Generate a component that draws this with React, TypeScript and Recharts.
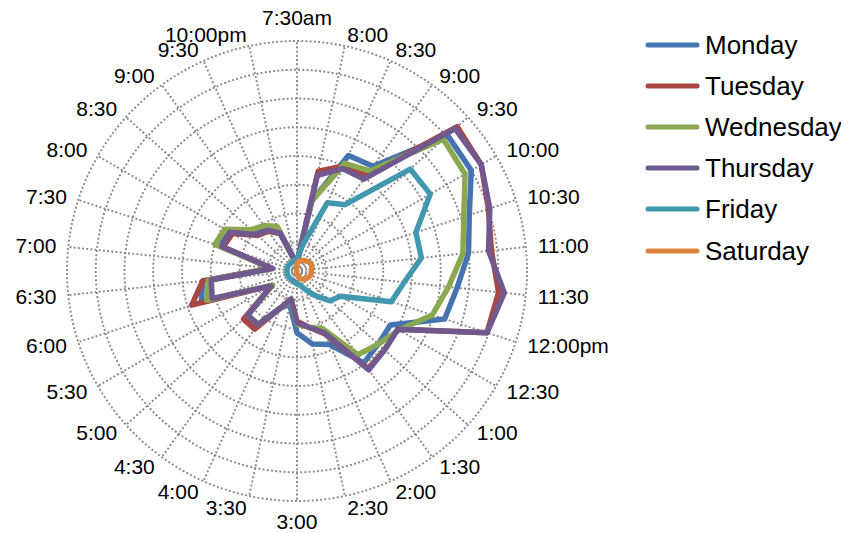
import React from "react";
import { RadarChart, Radar, PolarGrid, PolarAngleAxis, PolarRadiusAxis, Legend } from "recharts";

const categories = ["7:30am","8:00","8:30","9:00","9:30","10:00","10:30","11:00","11:30","12:00pm","12:30","1:00","1:30","2:00","2:30","3:00","3:30","4:00","4:30","5:00","5:30","6:00","6:30","7:00","7:30","8:00","8:30","9:00","9:30","10:00pm"];

const monday = [0.3, 2.5, 4.4, 4.5, 7.05, 7.0, 6.3, 6.0, 5.6, 5.4, 3.75, 3.8, 3.95, 2.8, 2.6, 2.15, 1.2, 1.4, 2.4, 2.4, 1.0, 3.5, 3.3, 0.9, 2.85, 2.7, 1.95, 1.8, 1.4, 0.35];
const tuesday = [0.3, 3.55, 4.0, 4.1, 7.5, 7.4, 7.0, 6.8, 7.05, 6.95, 4.05, 4.1, 4.2, 2.4, 2.0, 1.75, 1.0, 1.4, 2.5, 2.5, 1.0, 3.85, 3.3, 0.9, 2.7, 2.6, 1.85, 1.7, 1.45, 0.35];
const wednesday = [0.3, 2.5, 4.1, 4.3, 6.85, 6.75, 6.1, 5.8, 5.3, 4.95, 4.1, 3.8, 3.6, 2.2, 2.0, 1.85, 1.05, 1.4, 2.3, 2.3, 1.0, 3.3, 3.1, 0.9, 3.0, 2.9, 2.15, 1.95, 1.7, 0.4];
const thursday = [0.3, 3.4, 3.9, 3.95, 7.4, 7.4, 7.05, 6.7, 7.25, 6.95, 4.05, 4.1, 4.25, 2.35, 2.0, 1.8, 1.0, 1.4, 2.3, 2.3, 1.05, 3.1, 3.0, 0.85, 2.75, 2.7, 1.9, 1.75, 1.45, 0.4];
const friday = [0.4, 0.9, 2.6, 2.85, 5.3, 5.35, 4.35, 4.35, 3.75, 3.45, 1.75, 1.55, 1.05, 0.7, 0.5, 0.45, 0.4, 0.35, 0.35, 0.35, 0.35, 0.35, 0.35, 0.35, 0.35, 0.35, 0.35, 0.35, 0.35, 0.4];
const saturday = [0.25, 0.35, 0.4, 0.45, 0.5, 0.55, 0.55, 0.5, 0.5, 0.5, 0.45, 0.4, 0.35, 0.3, 0.2, 0.1, 0.05, 0, 0, 0, 0, 0, 0, 0, 0, 0, 0, 0, 0.05, 0.1];

const seriesNames = ["Monday", "Tuesday", "Wednesday", "Thursday", "Friday", "Saturday"];
const seriesValues = [monday, tuesday, wednesday, thursday, friday, saturday];
const seriesColors = ["#4674B0", "#AA4643", "#8AA84F", "#71588F", "#4198AF", "#DB843D"];

const rows = categories.map((c, i) => {
  const row: any = { slot: i, cat: c };
  seriesNames.forEach((n, k) => { row[n] = seriesValues[k][i]; });
  return row;
});

const CX = 289;
const CY = 263;
const R = 230;
const FONT = "'Liberation Sans', Arial, sans-serif";

const AngleTick = (props: any) => {
  const { payload } = props;
  const rad = (-payload.coordinate * Math.PI) / 180;
  const c = Math.cos(rad);
  const s = Math.sin(rad);
  const rr = R + 12;
  const x = CX + rr * c;
  let y = CY + rr * s;
  let anchor = "middle";
  if (c > 0.05) anchor = "start";
  else if (c < -0.05) anchor = "end";
  if (s < -0.99) y -= 11;
  if (s > 0.99) y += 9;
  return (
    <text x={x} y={y} dy="0.35em" textAnchor={anchor} fontSize={21} fontFamily={FONT} fill="#000">
      {categories[payload.value]}
    </text>
  );
};

const renderLegend = () => (
  <div style={{ fontFamily: FONT }}>
    {seriesNames.map((n, k) => (
      <div key={n} style={{ display: "flex", alignItems: "center", height: 41.2 }}>
        <svg width={55} height={8} style={{ display: "block" }}>
          <line x1={3} y1={4} x2={52} y2={4} stroke={seriesColors[k]} strokeWidth={5} strokeLinecap="round" />
        </svg>
        <span style={{ fontSize: 26, marginLeft: 5, color: "#000", lineHeight: "30px" }}>{n}</span>
      </div>
    ))}
  </div>
);

export default function App() {
  return (
    <div style={{ width: 841, height: 525 }}>
      <RadarChart
        width={841}
        height={525}
        cx={CX}
        cy={CY}
        outerRadius={R}
        data={rows}
        startAngle={90}
        endAngle={-270}
        margin={{ top: 0, right: 0, bottom: 0, left: 0 }}
        style={{ overflow: "visible" }}
      >
        <PolarGrid gridType="circle" stroke="#868686" strokeWidth={1.9} strokeDasharray="1.9 2.3" />
        <PolarAngleAxis dataKey="slot" type="category" tick={<AngleTick />} tickLine={false} axisLine={false} />
        <PolarRadiusAxis domain={[0, 8]} tickCount={9} tick={false} axisLine={false} />
        {seriesNames.map((n, k) => (
          <Radar
            key={n}
            name={n}
            dataKey={n}
            stroke={seriesColors[k]}
            strokeWidth={5.5}
            strokeLinejoin="round"
            fill="none"
            fillOpacity={0}
            dot={false}
            isAnimationActive={false}
          />
        ))}
        <Legend content={renderLegend} wrapperStyle={{ left: 637, top: 16, width: 210 }} />
      </RadarChart>
    </div>
  );
}
